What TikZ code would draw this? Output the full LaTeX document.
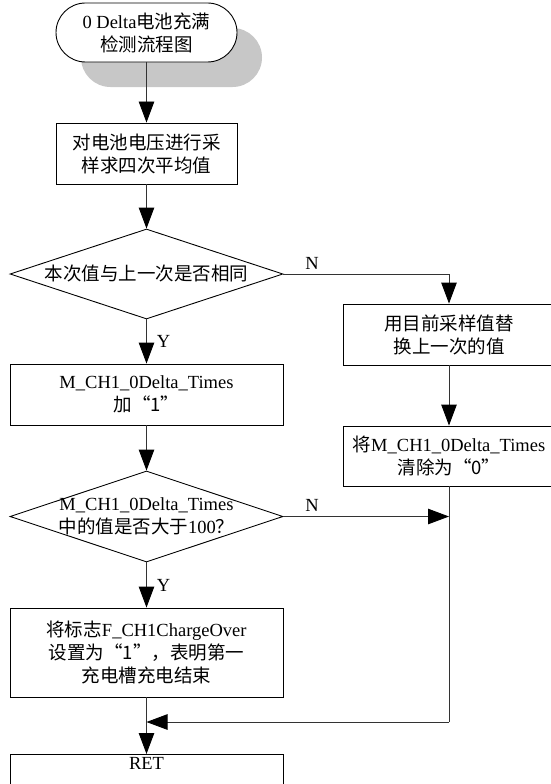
\documentclass[tikz,border=0pt]{standalone}
\usepackage{fontspec}
\setmainfont{Liberation Serif}
\newfontfamily\cjk{Noto Sans CJK SC}
\newcommand{\hz}[1]{{\cjk #1}}
\usetikzlibrary{arrows.meta,shapes.geometric}
\begin{document}
\begin{tikzpicture}[x=1bp,y=-1bp,
  every node/.style={font=\fontsize{18.5bp}{23bp}\selectfont, inner sep=0pt, align=center},
  boxnode/.style={draw=black, line width=0.9bp, fill=white, minimum width=#1, minimum height=61bp},
  decision/.style={draw=black, line width=0.9bp, diamond, minimum width=273bp, minimum height=90bp, inner sep=0pt},
  flow/.style={draw=black!80, line width=0.9bp, -{Triangle[length=21bp,width=15.5bp,color=black]}},
  plainflow/.style={draw=black!80, line width=0.9bp},
  branch/.style={font=\fontsize{18.5bp}{23bp}\selectfont}
]
\useasboundingbox (0,0) rectangle (551,784);

% start terminal with its grey shadow
\fill[black!22, rounded corners=29.5bp] (81,28) rectangle (262,87);
\node[draw=black, line width=0.9bp, fill=white, rounded corners=29.5bp,
      minimum width=181bp, minimum height=59bp] (start) at (146.5,32.5)
      {0 Delta\hz{电池充满}\\\hz{检测流程图}};

\node[boxnode=181bp] (b1) at (146.5,153.5) {\hz{对电池电压进行采}\\\hz{样求四次平均值}};

\node[decision] (d1) at (146.5,274) {};
\node (d1t) at (146.5,274) {\hz{本次值与上一次是否相同}};

\node[boxnode=273bp] (b2) at (146.5,394.5) {M\_CH1\_0Delta\_Times\\\hz{加“1”}};

\node[decision, minimum height=91bp] (d2) at (146.5,516.5) {};
\node (d2t) at (146.5,516.5) {M\_CH1\_0Delta\_Times\\\hz{中的值是否大于}100\hz{？}};

\node[boxnode=273bp, minimum height=89bp] (b3) at (146.5,652.5)
  {\hz{将标志}F\_CH1ChargeOver\\\hz{设置为“1”，表明第一}\\\hz{充电槽充电结束}};

\node[boxnode=273bp, anchor=north] (ret) at (146.5,754) {};
\node (rett) at (146.5,763) {RET};

\node[boxnode=212bp] (r1) at (449,334.5) {\hz{用目前采样值替}\\\hz{换上一次的值}};
\node[boxnode=212bp, minimum height=60bp] (r2) at (449,456) {\hz{将}M\_CH1\_0Delta\_Times\\\hz{清除为“0”}};

\coordinate (merge) at (449,722);
\coordinate (join) at (146.5,722);

% connectors
\draw[flow] (start) -- (b1);
\draw[flow] (b1) -- (d1);
\draw[flow] (d1) -- node[branch, anchor=west, xshift=10bp] (y1) {Y} (b2);
\draw[flow] (d1.east) -| (r1.north);
\node[branch] (n1) at (312,263) {N};
\draw[flow] (r1) -- (r2);
\draw[flow] (b2) -- (d2);
\draw[flow] (d2.east) -- (d2.east -| r2.south);
\node[branch] (n2) at (312,505) {N};
\draw[flow] (d2) -- node[branch, anchor=west, xshift=10bp] (y2) {Y} (b3);
\draw[flow] (b3) -- (ret);
\draw[plainflow] (r2.south) -- (merge);
\draw[flow] (merge) -- (join);
\end{tikzpicture}
\end{document}
